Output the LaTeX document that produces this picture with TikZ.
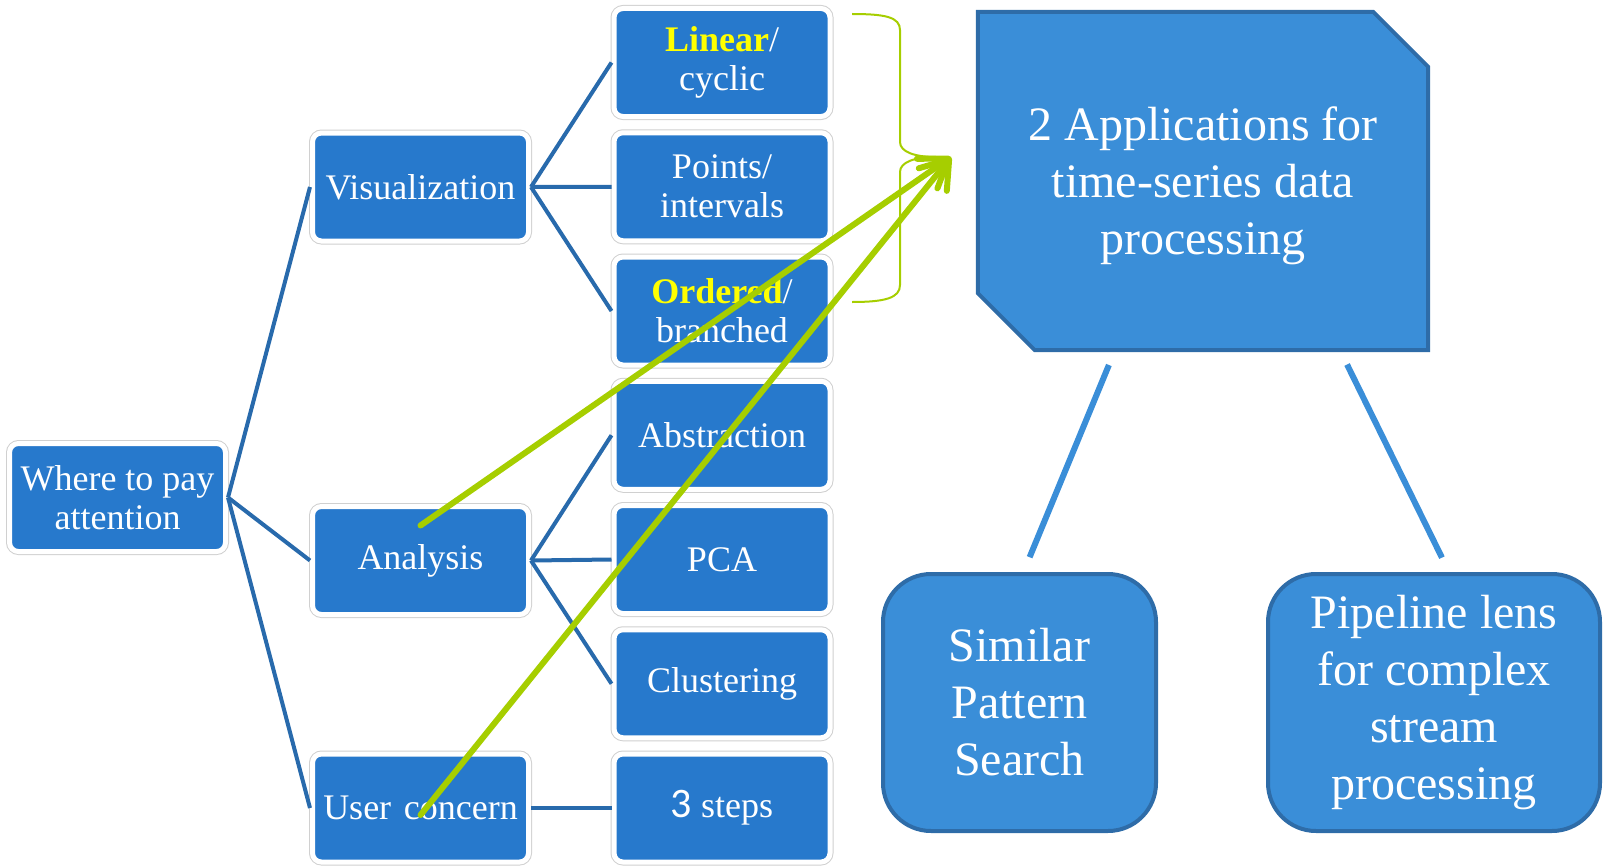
\documentclass[tikz,border=0pt]{standalone}
\usepackage{fontspec}
\setmainfont{Liberation Serif}
\newfontfamily\digitfont{Carlito}
\usetikzlibrary{arrows.meta}

\definecolor{boxblue}{RGB}{39,121,204}
\definecolor{treeblue}{RGB}{40,106,172}
\definecolor{appblue}{RGB}{58,142,216}
\definecolor{appedge}{RGB}{46,108,168}
\definecolor{lime}{RGB}{166,206,0}
\definecolor{halo}{RGB}{208,208,208}
\definecolor{hilite}{RGB}{255,255,0}

\pgfdeclarelayer{background}
\pgfsetlayers{background,main}

\begin{document}
\begin{tikzpicture}[x=1pt,y=-1pt,
  topic/.style={rectangle, rounded corners=9pt, fill=boxblue, draw=white,
    line width=5pt, preaction={draw=halo, line width=7pt},
    minimum width=216pt, minimum height=108pt, inner sep=0pt,
    text=white, align=center, font=\fontsize{36}{39}\selectfont},
  tree/.style={draw=treeblue, line width=4pt},
  appbox/.style={rectangle, rounded corners=48pt, fill=appblue, draw=appedge,
    line width=4pt, inner sep=0pt, text=white, align=center,
    font=\fontsize{48}{57}\selectfont},
  appshape/.style={fill=appblue, draw=appedge, line width=4pt},
  appline/.style={draw=appblue, line width=6pt, shorten <=16pt, shorten >=16pt},
  greenarrow/.style={draw=lime, line width=6pt, line cap=round,
    -{Straight Barb[length=26pt,width=36pt,round]}},
  bracket/.style={draw=lime, line width=2pt}]

\useasboundingbox (0,0) rectangle (1604,867);

% mind-map tree
\node[topic] (root) at (117.5,497.5) {Where to pay\\attention};

\node[topic] (vis) at (420.5,187)   {Visualization};
\node[topic] (ana) at (420.5,560.5) {Analysis};
\node[topic] (usr) at (420.5,808)   {User\hspace{0.35em}concern};

\node[topic] (lin) at (722,62.5)    {\textbf{\color{hilite}Linear}/\\cyclic};
\node[topic] (pts) at (722,186.75)  {Points/\\intervals};
\node[topic] (ord) at (722,311)     {\textbf{\color{hilite}Ordered}/\\branched};
\node[topic] (abs) at (722,435.25)  {Abstraction};
\node[topic] (pca) at (722,559.5)   {PCA};
\node[topic] (clu) at (722,683.75)  {Clustering};
\node[topic] (stp) at (722,808)     {{\digitfont\fontsize{42}{42}\selectfont 3} steps};

\draw[tree] (root.east) -- (vis.west);
\draw[tree] (root.east) -- (ana.west);
\draw[tree] (root.east) -- (usr.west);
\draw[tree] (vis.east) -- (lin.west);
\draw[tree] (vis.east) -- (pts.west);
\draw[tree] (vis.east) -- (ord.west);
\draw[tree] (ana.east) -- (abs.west);
\draw[tree] (ana.east) -- (pca.west);
\draw[tree] (ana.east) -- (clu.west);
\draw[tree] (usr.east) -- (stp.west);

% applications block (outline drawn behind its text)
\node[rectangle, minimum width=450pt, minimum height=328pt, inner sep=0pt,
      text=white, align=center, font=\fontsize{48}{57}\selectfont]
  (app) at (1203,186) {2 Applications for\\time-series data\\processing};
\begin{pgfonlayer}{background}
  \draw[appshape] ([yshift=10pt]app.north west)
    -- ([shift={(-55pt,10pt)}]app.north east)
    -- ([yshift=-45pt]app.north east) -- (app.south east)
    -- ([xshift=57pt]app.south west) -- ([yshift=57pt]app.south west) -- cycle;
\end{pgfonlayer}

\node[appbox, minimum width=273pt, minimum height=257pt] (sim) at (1019.5,702.5)
  {Similar\\Pattern\\Search};
\node[appbox, minimum width=332pt, minimum height=257pt] (pipe) at (1434,702.5)
  {Pipeline lens\\for complex\\stream\\processing};

\draw[appline] ([xshift=-88pt]app.south) -- ([xshift=4pt]sim.north);
\draw[appline] ([xshift=137pt]app.south) -- ([xshift=15pt]pipe.north);

% brace over the visualization options
\coordinate (aim) at (951,157);
\draw[bracket] (852,14) .. controls (885,14) and (900,17) .. (900,30)
  -- (900,142) .. controls (900,152) and (915,157) .. (936,157);
\draw[bracket] (936,157) .. controls (915,157) and (900,162) .. (900,172)
  -- (900,285) .. controls (900,298) and (885,302) .. (852,302);

% arrows into the applications block
\draw[greenarrow] ([yshift=35pt]ana.center) -- (aim);
\draw[greenarrow] ([yshift=-7pt]usr.center) -- (aim);

\end{tikzpicture}
\end{document}
